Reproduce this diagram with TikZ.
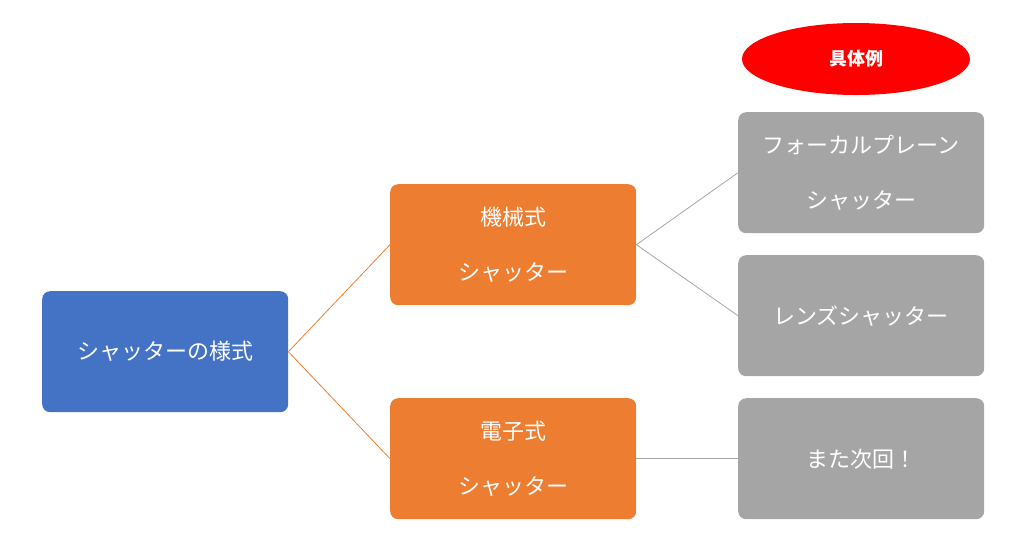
\documentclass[tikz,border=0pt]{standalone}
\usepackage{fontspec}
\newfontfamily\cjk{Noto Sans CJK JP}
\usetikzlibrary{positioning,shapes.geometric}
\definecolor{boxblue}{HTML}{4472C4}
\definecolor{boxorange}{HTML}{ED7D31}
\definecolor{boxgray}{HTML}{A5A5A5}
\begin{document}
\begin{tikzpicture}[x=1pt,y=-1pt,
  box/.style={rounded corners=8pt, minimum width=246pt, minimum height=121pt, inner sep=0pt,
    text=white, align=center, font=\cjk\fontsize{22}{55}\selectfont, anchor=north west},
  link/.style={line width=0.8pt}]
  \useasboundingbox (0,0) rectangle (1024,539);

  %draw boxes
  \node[box, fill=boxblue] (root) at (42,291) {シャッターの様式};
  \node[box, fill=boxorange] (mech) at (390,184) {機械式\\シャッター};
  \node[box, fill=boxorange] (elec) at (390,398) {電子式\\シャッター};
  \node[box, fill=boxgray] (focal) at (738,112) {フォーカルプレーン\\シャッター};
  \node[box, fill=boxgray] (lens) at (738,255) {レンズシャッター};
  \node[box, fill=boxgray] (next) at (738,398) {また次回！};

  %label ellipse
  \node[ellipse, fill=red, minimum width=228pt, minimum height=72pt, text=white,
    font=\cjk\bfseries\fontsize{18}{20}\selectfont] (ex) at (856,59) {具体例};

  %draw links
  \foreach \t in {mech,elec}
    \draw[link, boxorange] (root.east) -- (\t.west);
  \foreach \t in {focal,lens}
    \draw[link, boxgray] (mech.east) -- (\t.west);
  \draw[link, boxgray] (elec.east) -- (next.west);

\end{tikzpicture}
\end{document}
